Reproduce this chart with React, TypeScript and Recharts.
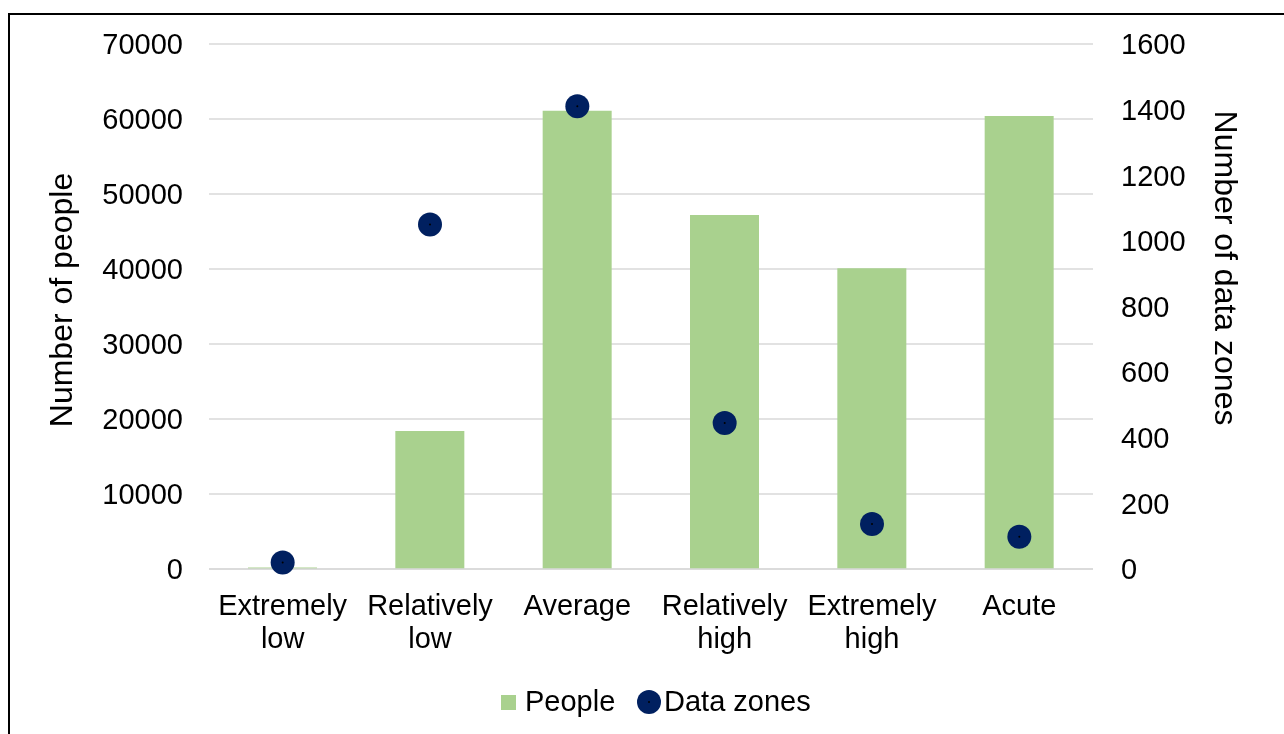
import { Bar, CartesianGrid, ComposedChart, Legend, Line, XAxis, YAxis } from 'recharts';

const categories = ['Extremely low', 'Relatively low', 'Average', 'Relatively high', 'Extremely high', 'Acute'];
const people = [200, 18400, 61100, 47200, 40100, 60400];
const dataZones = [20, 1050, 1410, 445, 137, 98];
const peopleTicks = [0, 10000, 20000, 30000, 40000, 50000, 60000, 70000];
const zoneTicks = [0, 200, 400, 600, 800, 1000, 1200, 1400, 1600];

const data = categories.map((name, i) => ({ name, people: people[i], zones: dataZones[i] }));

const FONT = '"Liberation Sans", Arial, sans-serif';
const GREEN = '#a9d18e';
const NAVY = '#002060';
const GRID = '#d9d9d9';

function CategoryTick({ x, y, payload }: any) {
  const [first, ...rest] = String(payload.value).split(' ');
  return (
    <text x={x} y={y} textAnchor="middle" fontSize={29} fill="#000" fontFamily={FONT}>
      <tspan x={x} dy={46}>{first}</tspan>
      {rest.length > 0 && <tspan x={x} dy={33}>{rest.join(' ')}</tspan>}
    </text>
  );
}

function ZoneDot({ cx, cy }: any) {
  if (cx == null || cy == null) return null;
  return (
    <g>
      <circle cx={cx} cy={cy} r={12} fill={NAVY} />
      <circle cx={cx} cy={cy} r={1} fill="#000" />
    </g>
  );
}

function LegendContent() {
  return (
    <div style={{ width: 1276, height: 40 }}>
      <svg width={1276} height={40} style={{ display: 'block' }}>
        <rect x={493} y={14} width={15} height={15} fill={GREEN} />
        <text x={517} y={30} fontSize={29} fill="#000" fontFamily={FONT}>People</text>
        <circle cx={641} cy={21} r={12} fill={NAVY} />
        <circle cx={641} cy={21} r={1} fill="#000" />
        <text x={656} y={30} fontSize={29} fill="#000" fontFamily={FONT}>Data zones</text>
      </svg>
    </div>
  );
}

export default function App() {
  return (
    <div style={{ position: 'relative', width: 1276, height: 718, fontFamily: FONT }}>
      {/* frame runs off the right and bottom edges, as in the source */}
      <div
        style={{
          position: 'fixed',
          left: 8,
          top: 13,
          width: 1300,
          height: 800,
          borderTop: '2px solid #000',
          borderLeft: '2px solid #000',
          boxSizing: 'border-box',
        }}
      />
      <div style={{ position: 'absolute', left: 0, top: 0 }}>
        <ComposedChart
          width={1276}
          height={718}
          data={data}
          margin={{ top: 36, right: 71, left: 81, bottom: 5 }}
        >
          <CartesianGrid yAxisId="left" vertical={false} stroke={GRID} strokeWidth={1.5} />
          <XAxis
            dataKey="name"
            height={112}
            tick={<CategoryTick />}
            tickLine={false}
            tickSize={0}
            tickMargin={0}
            interval={0}
            axisLine={{ stroke: GRID, strokeWidth: 1.5 }}
          />
          <YAxis
            yAxisId="left"
            width={120}
            domain={[0, 70000]}
            ticks={peopleTicks}
            axisLine={false}
            tickLine={false}
            tickSize={0}
            tickMargin={26}
            tick={{ fill: '#000', fontSize: 29, fontFamily: FONT }}
            label={({ viewBox }: any) => (
              <text
                x={viewBox.x - 28}
                y={292}
                transform={`rotate(-90, ${viewBox.x - 28}, 292)`}
                textAnchor="middle"
                dominantBaseline="central"
                fontSize={32}
                fill="#000"
                fontFamily={FONT}
              >
                Number of people
              </text>
            )}
          />
          <YAxis
            yAxisId="right"
            orientation="right"
            width={120}
            domain={[0, 1600]}
            ticks={zoneTicks}
            axisLine={false}
            tickLine={false}
            tickSize={0}
            tickMargin={28}
            tick={{ fill: '#000', fontSize: 29, fontFamily: FONT, textAnchor: 'start' }}
            label={({ viewBox }: any) => (
              <text
                x={viewBox.x + 133}
                y={260}
                transform={`rotate(90, ${viewBox.x + 133}, 260)`}
                textAnchor="middle"
                dominantBaseline="central"
                fontSize={32}
                fill="#000"
                fontFamily={FONT}
              >
                Number of data zones
              </text>
            )}
          />
          <Legend verticalAlign="bottom" content={<LegendContent />} wrapperStyle={{ left: 0, width: 1276 }} />
          <Bar yAxisId="left" dataKey="people" name="People" fill={GREEN} barSize={69} isAnimationActive={false} />
          <Line
            yAxisId="right"
            dataKey="zones"
            name="Data zones"
            stroke="none"
            dot={<ZoneDot />}
            activeDot={false}
            isAnimationActive={false}
          />
        </ComposedChart>
      </div>
    </div>
  );
}
